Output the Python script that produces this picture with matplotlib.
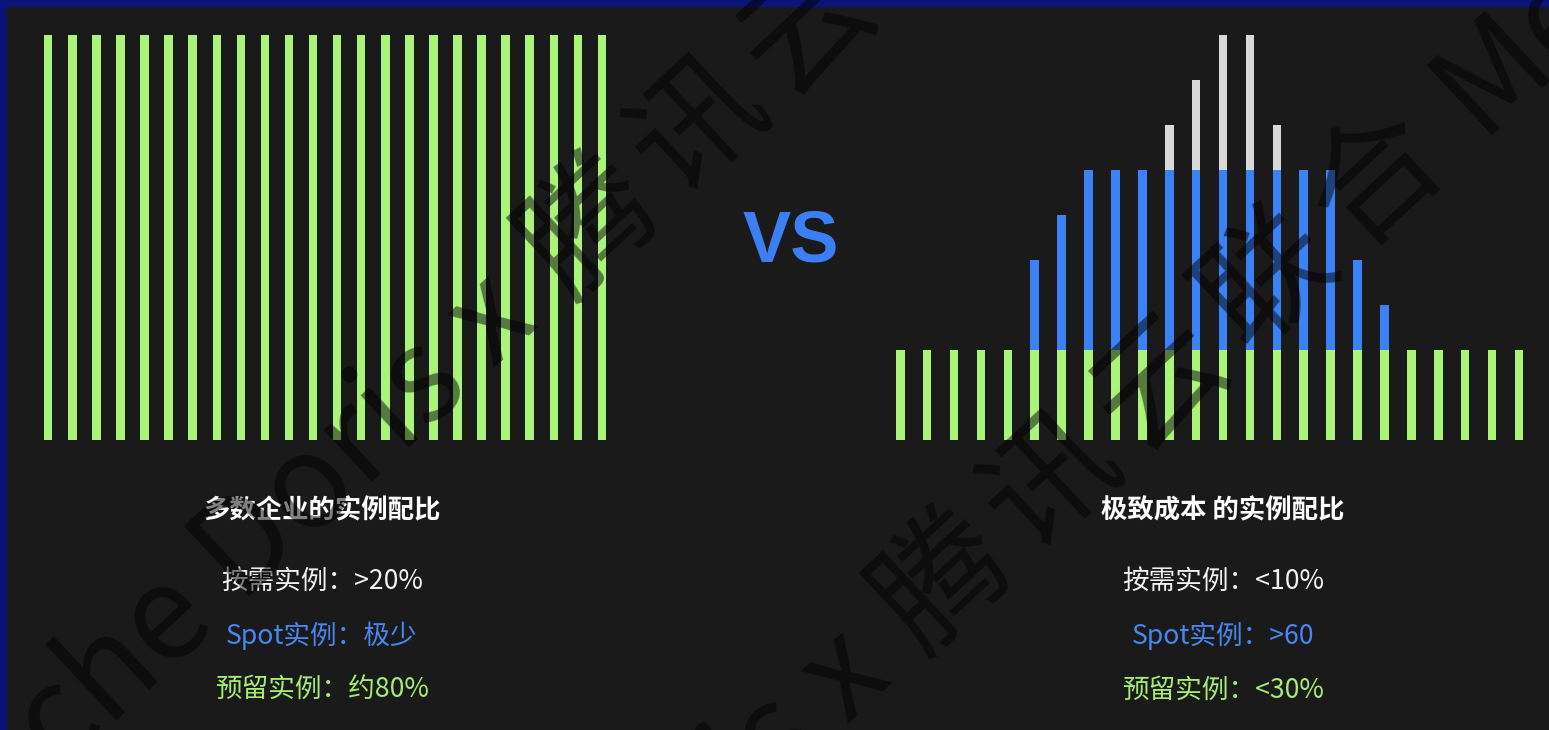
import matplotlib
matplotlib.use("Agg")
import matplotlib.pyplot as plt
import numpy as np
from matplotlib.transforms import IdentityTransform

plt.rcParams['font.family'] = ['Noto Sans CJK SC', 'DejaVu Sans']

# data: bar heights in "slots" (each slot ~ 1 unit)
left_reserved = [9, 9, 9, 9, 9, 9, 9, 9, 9, 9, 9, 9, 9, 9, 9, 9, 9, 9, 9, 9, 9, 9, 9, 9]
right_reserved = [2, 2, 2, 2, 2, 2, 2, 2, 2, 2, 2, 2, 2, 2, 2, 2, 2, 2, 2, 2, 2, 2, 2, 2]
right_spot = [0, 0, 0, 0, 0, 2, 3, 4, 4, 4, 4, 4, 4, 4, 4, 4, 4, 2, 1, 0, 0, 0, 0, 0]
right_ondemand = [0, 0, 0, 0, 0, 0, 0, 0, 0, 0, 1, 2, 3, 3, 1, 0, 0, 0, 0, 0, 0, 0, 0, 0]

left_title = "多数企业的实例配比"
left_lines = ["按需实例：>20%", "Spot实例：极少", "预留实例：约80%"]
right_title = "极致成本 的实例配比"
right_lines = ["按需实例：<10%", "Spot实例：>60", "预留实例：<30%"]

GREEN = '#aaf47a'
BLUE = '#3b82f6'
GREY = '#d9d9d9'
BG = '#1a1a1a'
NAVY = '#0b1577'

W, H = 1549, 730
fig = plt.figure(figsize=(W / 100, H / 100), dpi=100, facecolor=NAVY)

# dark panel (navy border only on top / left)
bg = fig.add_axes([7 / W, 0, 1 - 7 / W, (H - 7) / H])
bg.set_facecolor(BG)
bg.set_xticks([])
bg.set_yticks([])
for s in bg.spines.values():
    s.set_visible(False)


def px_axes(x0, x1, y_top, y_bot):
    return fig.add_axes([x0 / W, (H - y_bot) / H, (x1 - x0) / W, (y_bot - y_top) / H])


# left chart
ax1 = px_axes(36.2, 614.0, 35, 440)
x = np.arange(len(left_reserved))
ax1.bar(x, left_reserved, width=0.353, color=GREEN, linewidth=0)
ax1.set_xlim(-0.5, 23.5)
ax1.set_ylim(0, 9)
ax1.axis('off')

# right chart
ax2 = px_axes(886.8, 1532.4, 35, 440)
x = np.arange(len(right_reserved))
r = np.array(right_reserved)
s = np.array(right_spot)
o = np.array(right_ondemand)
ax2.bar(x, r, width=0.316, color=GREEN, linewidth=0)
ax2.bar(x, s, bottom=r, width=0.316, color=BLUE, linewidth=0)
ax2.bar(x, o, bottom=r + s, width=0.316, color=GREY, linewidth=0)
ax2.set_xlim(-0.5, 23.5)
ax2.set_ylim(0, 9)
ax2.axis('off')

# VS
fig.text(791 / W, (H - 243) / H, "VS", color='#3b7ff5', fontsize=52,
         fontweight='bold', family=['Liberation Sans', 'DejaVu Sans'],
         ha='center', va='center')

line_colors = ['#f2f2f2', '#4688f0', '#a4ec72']
line_y = [581, 636, 690]
for cx, title, lines in [(322, left_title, left_lines), (1223, right_title, right_lines)]:
    fig.text(cx / W, (H - 511) / H, title, color='white', fontsize=19,
             fontweight='bold', ha='center', va='center')
    for txt, c, yy in zip(lines, line_colors, line_y):
        fig.text(cx / W, (H - yy) / H, txt, color=c, fontsize=19.2,
                 fontweight='medium', ha='center', va='center')

# diagonal watermark
ang = 43
d = np.array([np.cos(np.radians(ang)), -np.sin(np.radians(ang))])
n = np.array([np.sin(np.radians(ang)), np.cos(np.radians(ang))])
wm_size = 94
em = wm_size / 72 * 100


def wm(along, normal, txt, ha):
    p = along * d + normal * n
    fig.text(p[0], H - p[1], txt, transform=IdentityTransform(), fontsize=wm_size,
             color='black', alpha=0.5, rotation=ang, rotation_mode='anchor',
             ha=ha, va='baseline', zorder=10, fontweight='medium')


for first, normal in [(277, 557), (293, 1058)]:
    base = normal + 0.38 * em
    wm(first - 103, base, "Apache Doris x", 'right')
    for k, ch in enumerate("腾讯云联合"):
        wm(first + 148 * k, base, ch, 'center')
    wm(first + 148 * 4 + 105, base, "Meetup", 'left')

fig.savefig("out.png", dpi=100, facecolor=fig.get_facecolor())
